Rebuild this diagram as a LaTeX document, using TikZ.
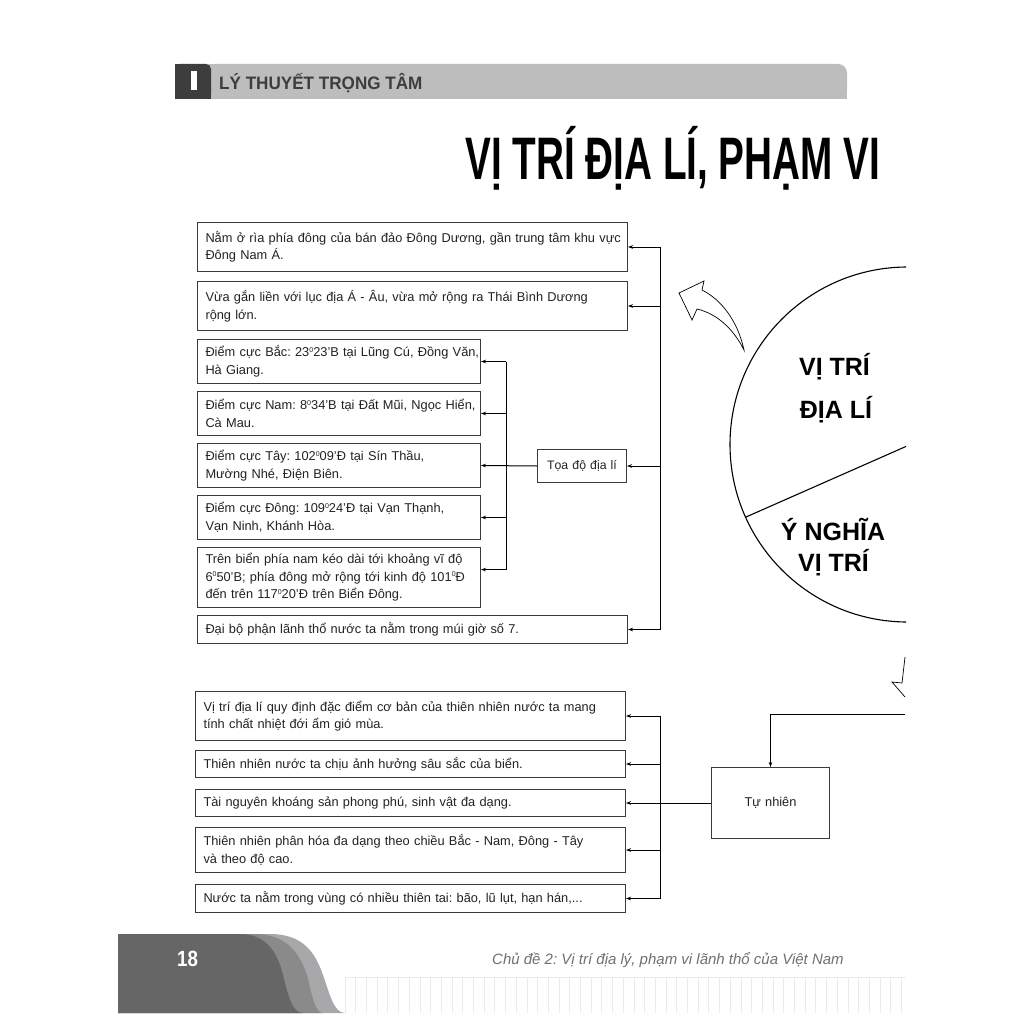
\documentclass[tikz,border=0pt]{standalone}
\usepackage{fontspec}
\setmainfont{Liberation Sans}
\usepackage{graphicx}
\usetikzlibrary{arrows.meta,calc}
\definecolor{hdrdark}{HTML}{3D3D3D}
\definecolor{hdrgray}{HTML}{BDBDBD}
\definecolor{boxline}{HTML}{3A3A3A}
\definecolor{txt}{HTML}{222222}
\definecolor{fdark}{HTML}{666667}
\definecolor{fmid}{HTML}{8A8A8B}
\definecolor{flight}{HTML}{A8A8AA}
\definecolor{fpat}{HTML}{EBEBEB}
\definecolor{ftxt}{HTML}{707070}
\newcommand{\dg}{\raisebox{4.5pt}{\fontsize{7}{7}\selectfont 0}}
\frenchspacing
\begin{document}
\begin{tikzpicture}[x=1pt,y=-1pt,
  box/.style={draw=boxline, line width=1pt, anchor=north west, inner xsep=8pt, inner ysep=0pt,
     align=left, font=\fontsize{12.8}{17.5}\selectfont, text=txt},
  arr/.style={-{Stealth[length=5pt,width=3.6pt]}, line width=1pt},
  line/.style={line width=1pt},
  bigt/.style={font=\fontsize{25}{25}\selectfont\bfseries, anchor=base, inner sep=0pt, text=black}]
\useasboundingbox (0,0) rectangle (1024,1024);
\fill[white] (0,0) rectangle (1024,1024);

% header
\fill[hdrgray, rounded corners=9pt] (205,64) rectangle (847,99);
\fill[hdrgray] (205,64) rectangle (830,99);
\fill[hdrgray] (205,80) rectangle (847,99);
\fill[hdrdark, rounded corners=5pt] (175,64) rectangle (211,99);
\fill[hdrdark] (175,64) rectangle (200,99);
\fill[hdrdark] (175,80) rectangle (211,99);
\fill[white] (191,71) rectangle (197,90);
\node[anchor=base west, inner sep=0pt, text=hdrdark] (hdr) at (219,90)
  {\scalebox{0.95}[1]{\fontsize{18}{18}\selectfont\bfseries LÝ THUYẾT TRỌNG TÂM}};

% title
\node[anchor=base west, inner sep=0pt, text=black] (title) at (465,180)
  {\scalebox{0.645}[1]{\fontsize{60}{60}\selectfont\bfseries VỊ TRÍ ĐỊA LÍ, PHẠM VI}};

% top group
\node[box, text width=414pt, minimum height=49pt] (A) at (197,222)
  {\mbox{Nằm ở rìa phía đông của bán đảo Đông Dương, gần trung tâm khu vực}\\Đông Nam Á.};
\node[box, text width=414pt, minimum height=49pt] (B) at (197,281)
  {\mbox{Vừa gắn liền với lục địa Á - Âu, vừa mở rộng ra Thái Bình Dương}\\rộng lớn.};
\node[box, text width=267pt, minimum height=44pt] (C1) at (197,339)
  {\mbox{Điểm cực Bắc: 23\dg{}23’B tại Lũng Cú, Đồng Văn,}\\Hà Giang.};
\node[box, text width=267pt, minimum height=44pt] (C2) at (197,391)
  {\mbox{Điểm cực Nam: 8\dg{}34’B tại Đất Mũi, Ngọc Hiển,}\\Cà Mau.};
\node[box, text width=267pt, minimum height=44pt] (C3) at (197,443)
  {\mbox{Điểm cực Tây: 102\dg{}09’Đ tại Sín Thầu,}\\\mbox{Mường Nhé, Điện Biên.}};
\node[box, text width=267pt, minimum height=44pt] (C4) at (197,495)
  {\mbox{Điểm cực Đông: 109\dg{}24’Đ tại Vạn Thạnh,}\\\mbox{Vạn Ninh, Khánh Hòa.}};
\node[box, text width=267pt, minimum height=60pt] (C5) at (197,547)
  {\mbox{Trên biển phía nam kéo dài tới khoảng vĩ độ}\\\mbox{6\dg{}50’B; phía đông mở rộng tới kinh độ 101\dg{}Đ}\\\mbox{đến trên 117\dg{}20’Đ trên Biển Đông.}};
\node[box, text width=414pt, minimum height=28pt] (D) at (197,615)
  {\mbox{Đại bộ phận lãnh thổ nước ta nằm trong múi giờ số 7.}};
\node[box, text width=73pt, minimum height=33pt, align=center, font=\fontsize{12.3}{14}\selectfont] (T) at (537,449)
  {Tọa độ địa lí};

\coordinate (bus1) at (660,247);
\coordinate (bus2) at (506,362);
\coordinate (c5p) at ($(C5.north east)!0.37!(C5.south east)$);
\draw[line] (bus1 |- A.east) -- (bus1 |- D.east);
\draw[arr] (bus1 |- A.east) -- (A.east);
\draw[arr] (bus1 |- B.east) -- (B.east);
\draw[arr] (bus1 |- T.east) -- (T.east);
\draw[arr] (bus1 |- D.east) -- (D.east);
\draw[line] (bus2 |- C1.east) -- (bus2 |- c5p);
\draw[arr] (bus2 |- C1.east) -- (C1.east);
\draw[arr] (bus2 |- C2.east) -- (C2.east);
\draw[arr] (T.west) -- (C3.east);
\draw[arr] (bus2 |- C4.east) -- (C4.east);
\draw[arr] (bus2 |- c5p) -- (c5p);

% circle
\begin{scope}
\clip (0,0) rectangle (906,1024);
\draw[line width=1.1pt] (907.5,444.5) circle (177.5);
\draw[line width=1.1pt] (746,517) -- (907,446);
\end{scope}
\node[bigt] (v1) at (834.5,375) {VỊ TRÍ};
\node[bigt] (v2) at (836,418) {ĐỊA LÍ};
\node[bigt] (v3) at (833,540) {Ý NGHĨA};
\node[bigt] (v4) at (833.5,571) {VỊ TRÍ};

% hollow arrows
\draw[line width=0.7pt, line join=miter] (679,293) -- (704,281) -- (702,290)
  .. controls (722,300) and (738,322) .. (744,350)
  .. controls (734,330) and (718,314) .. (697,309) -- (692,320) -- cycle;
\draw[line width=0.7pt] (905,657) -- (902,683) -- (892,682) -- (905,697);

% bottom group
\node[box, text width=414pt, minimum height=49pt] (E1) at (195,691)
  {\mbox{Vị trí địa lí quy định đặc điểm cơ bản của thiên nhiên nước ta mang}\\tính chất nhiệt đới ẩm gió mùa.};
\node[box, text width=414pt, minimum height=27pt] (E2) at (195,750)
  {\mbox{Thiên nhiên nước ta chịu ảnh hưởng sâu sắc của biển.}};
\node[box, text width=414pt, minimum height=27pt] (E3) at (195,789)
  {\mbox{Tài nguyên khoáng sản phong phú, sinh vật đa dạng.}};
\node[box, text width=414pt, minimum height=45pt] (E4) at (195,827)
  {\mbox{Thiên nhiên phân hóa đa dạng theo chiều Bắc - Nam, Đông - Tây}\\và theo độ cao.};
\node[box, text width=414pt, minimum height=28pt] (E5) at (195,884)
  {\mbox{Nước ta nằm trong vùng có nhiều thiên tai: bão, lũ lụt, hạn hán,...}};
\node[box, text width=102pt, minimum height=71pt, align=center] (TN) at (711,767) {Tự nhiên};

\coordinate (feed) at (905,714);
\coordinate (bus3) at (660,715);
\draw[arr] (feed) -| (TN.north);
\draw[arr] (TN.west) -- (E3.east);
\draw[line] (bus3 |- E1.east) -- (bus3 |- E5.east);
\draw[arr] (bus3 |- E1.east) -- (E1.east);
\draw[arr] (bus3 |- E2.east) -- (E2.east);
\draw[arr] (bus3 |- E4.east) -- (E4.east);
\draw[arr] (bus3 |- E5.east) -- (E5.east);

% footer
\foreach \i in {0,...,52} {
  \draw[fpat, line width=0.8pt] (345+\i*10.7,977) -- (345+\i*10.7,1013);
}
\draw[fpat, line width=0.8pt] (345,977) -- (906,977);
\fill[flight] (118,934) -- (270,934) .. controls (305,934) and (316,955) .. (323,975)
  .. controls (330,995) and (334,1013) .. (345,1013) -- (118,1013) -- cycle;
\fill[fmid] (118,934) -- (255,934) .. controls (288,934) and (300,955) .. (307,975)
  .. controls (312,995) and (315,1013) .. (323,1013) -- (118,1013) -- cycle;
\fill[fdark] (118,934) -- (240,934) .. controls (268,934) and (278,955) .. (283,975)
  .. controls (288,995) and (292,1013) .. (303,1013) -- (118,1013) -- cycle;
\node[anchor=base west, inner sep=0pt, text=white] (pg) at (177,966)
  {\scalebox{0.85}[1]{\fontsize{22}{22}\selectfont\bfseries 18}};
\node[anchor=base west, inner sep=0pt, text=ftxt] (ft) at (492,964)
  {\fontsize{15}{15}\selectfont\itshape Chủ đề 2: Vị trí địa lý, phạm vi lãnh thổ của Việt Nam};
\end{tikzpicture}
\end{document}
